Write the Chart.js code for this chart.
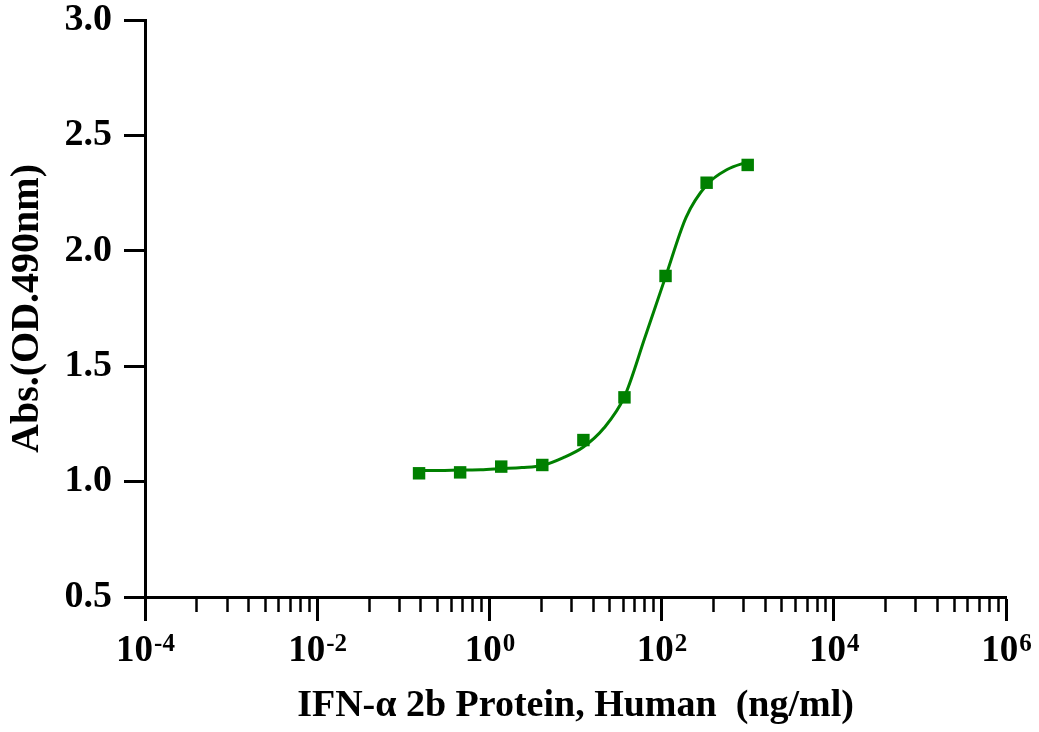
<!DOCTYPE html>
<html>
<head>
<meta charset="utf-8">
<title>IFN-α 2b dose response</title>
<script src="https://cdn.jsdelivr.net/npm/chart.js@4/dist/chart.umd.min.js"></script>
<style>
  html, body { margin: 0; padding: 0; background: #fff; }
  #wrap { width: 1039px; height: 732px; }
</style>
</head>
<body>
<div id="wrap"><canvas id="doseChart"></canvas></div>
<script>
// concentrations (ng/ml), 3-fold dilution series
const doses = [0.1524, 0.4572, 1.372, 4.115, 12.35, 37.04, 111.1, 333.3, 1000];
// measured absorbance at 490 nm
const absorbance = [1.036, 1.040, 1.065, 1.072, 1.180, 1.365, 1.891, 2.295, 2.372];
// fitted curve, sampled off the plot at the doses and half-way between them
const fitDoses = [0.1524, 0.264, 0.4572, 0.792, 1.372, 2.376, 4.115, 7.13, 12.35,
                  21.39, 37.04, 64.15, 111.1, 192.5, 333.3, 577.4, 1000];
const fitValues = [1.048, 1.048, 1.050, 1.051, 1.056, 1.061, 1.070, 1.103, 1.150,
                   1.232, 1.368, 1.625, 1.887, 2.145, 2.285, 2.352, 2.385];

// x axis: labelled decades (10^exp) and the minor marks between them
const xMajorTicks = [1e-4, 1e-2, 1, 1e2, 1e4, 1e6];
const xTickBase = '10';
const xTickExponents = ['-4', '-2', '0', '2', '4', '6'];
const xMinorSteps = [4, 9, 16, 25, 36, 49, 64, 81];
const yTicks = [0.5, 1.0, 1.5, 2.0, 2.5, 3.0];

const green = '#008000';
const serif = 'Liberation Serif';

Chart.defaults.font.family = serif;
Chart.defaults.font.weight = 'bold';
Chart.defaults.color = '#000';

// draws "10" with a raised exponent under each labelled decade
const powerLabels = {
  id: 'powerLabels',
  afterDraw(chart) {
    const c = chart.ctx;
    const xs = chart.scales.x;
    const base = chart.chartArea.bottom + 64;
    c.save();
    c.fillStyle = '#000';
    c.textBaseline = 'alphabetic';
    c.textAlign = 'left';
    xMajorTicks.forEach((v, i) => {
      const px = xs.getPixelForValue(v);
      c.font = 'bold 37px "' + serif + '"';
      const w1 = c.measureText(xTickBase).width;
      c.font = 'bold 25px "' + serif + '"';
      const w2 = c.measureText(xTickExponents[i]).width;
      const left = px - (w1 + w2) / 2;
      c.font = 'bold 37px "' + serif + '"';
      c.fillText(xTickBase, left, base);
      c.font = 'bold 25px "' + serif + '"';
      c.fillText(xTickExponents[i], left + w1 + 1, base - 10);
    });
    c.restore();
  }
};

const ctx = document.getElementById('doseChart').getContext('2d');

new Chart(ctx, {
  type: 'line',
  data: {
    datasets: [
      {
        label: 'Abs.',
        data: doses.map((d, i) => ({ x: d, y: absorbance[i] })),
        showLine: false,
        pointStyle: 'rect',
        pointRadius: 8.8,
        pointBackgroundColor: green,
        pointBorderColor: green,
        pointBorderWidth: 0,
        order: 0
      },
      {
        label: 'fit',
        data: fitDoses.map((d, i) => ({ x: d, y: fitValues[i] })),
        borderColor: green,
        borderWidth: 3,
        pointRadius: 0,
        cubicInterpolationMode: 'monotone',
        fill: false,
        order: 1
      }
    ]
  },
  options: {
    responsive: true,
    maintainAspectRatio: false,
    animation: false,
    layout: { padding: { top: 20, right: 33, left: 0, bottom: 0 } },
    plugins: {
      legend: { display: false },
      tooltip: { enabled: false }
    },
    scales: {
      x: {
        type: 'logarithmic',
        min: 1e-4,
        max: 1e6,
        afterBuildTicks: (scale) => {
          const t = [];
          xMajorTicks.forEach((m, i) => {
            t.push({ value: m, major: true });
            if (i < xMajorTicks.length - 1) {
              xMinorSteps.forEach(k => t.push({ value: m * k, major: false }));
            }
          });
          scale.ticks = t;
        },
        afterFit: (scale) => {
          scale.height = 135;
          scale.paddingLeft = 0;
          scale.paddingRight = 33;
        },
        border: { display: true, color: '#000', width: 3 },
        grid: {
          drawOnChartArea: false,
          drawTicks: true,
          tickLength: 24,
          tickColor: '#000',
          tickWidth: (c) => (c.tick && c.tick.major ? 3 : 2.5),
          tickBorderDash: (c) => (c.tick && c.tick.major ? [] : [13, 40])
        },
        ticks: {
          autoSkip: false,
          maxRotation: 0,
          minRotation: 0,
          callback: () => ''
        },
        title: {
          display: true,
          text: 'IFN-α 2b Protein, Human  (ng/ml)',
          font: { size: 38, weight: 'bold' },
          padding: { top: 0, bottom: 3 }
        }
      },
      y: {
        type: 'linear',
        min: 0.5,
        max: 3.0,
        afterBuildTicks: (scale) => {
          scale.ticks = yTicks.map(v => ({ value: v }));
        },
        afterFit: (scale) => {
          scale.width = 145;
          scale.paddingTop = 20;
          scale.paddingBottom = 0;
        },
        border: { display: true, color: '#000', width: 3 },
        grid: {
          drawOnChartArea: false,
          drawTicks: true,
          tickLength: 21,
          tickColor: '#000',
          tickWidth: 3
        },
        ticks: {
          padding: 12,
          font: { size: 38, weight: 'bold' },
          callback: (v) => v.toFixed(1)
        },
        title: {
          display: true,
          text: 'Abs.(OD.490nm)',
          font: { size: 40, weight: 'bold' },
          padding: { top: 4, bottom: 0 }
        }
      }
    }
  },
  plugins: [powerLabels]
});
</script>
</body>
</html>
